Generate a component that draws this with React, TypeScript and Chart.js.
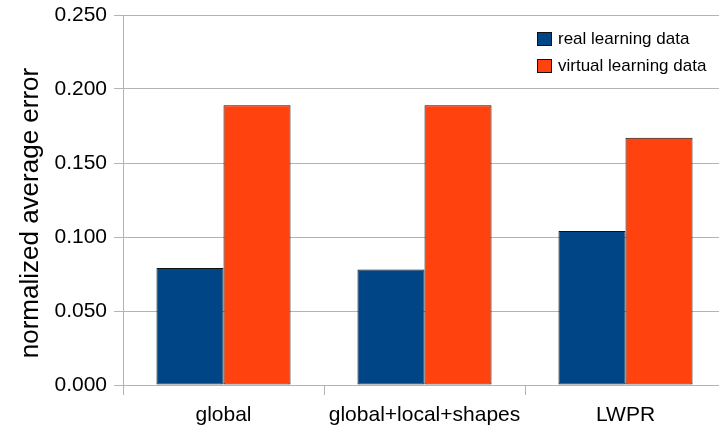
import React, { useEffect, useRef } from "react";
import { Chart, registerables } from "chart.js";

Chart.register(...registerables);

const categories = ["global", "global+local+shapes", "LWPR"];
const realLearning = [0.079, 0.078, 0.104];
const virtualLearning = [0.189, 0.189, 0.167];
const seriesLabels = ["real learning data", "virtual learning data"];
const seriesColors = ["#004586", "#ff420e"];
const yAxisTitle = "normalized average error";

const FONT = "'Liberation Sans', Arial, Helvetica, sans-serif";
const GRID = "#b3b3b3";

// Rotated y-axis caption drawn beside the tick labels
const yTitlePlugin = {
  id: "yTitle",
  afterDraw(chart: any) {
    const { ctx } = chart;
    ctx.save();
    ctx.translate(31, 213);
    ctx.rotate(-Math.PI / 2);
    ctx.font = `26px ${FONT}`;
    ctx.fillStyle = "#000";
    ctx.textAlign = "center";
    ctx.textBaseline = "middle";
    ctx.fillText(yAxisTitle, 0, 0);
    ctx.restore();
  },
};

export default function App() {
  const canvasRef = useRef<HTMLCanvasElement | null>(null);

  useEffect(() => {
    const canvas = canvasRef.current;
    if (!canvas) return;
    const chart = new Chart(canvas, {
      type: "bar",
      data: {
        labels: categories,
        datasets: [
          {
            label: seriesLabels[0],
            data: realLearning,
            backgroundColor: seriesColors[0],
            borderColor: "#111111",
            borderWidth: 1,
            borderSkipped: false,
          },
          {
            label: seriesLabels[1],
            data: virtualLearning,
            backgroundColor: seriesColors[1],
            borderColor: "#111111",
            borderWidth: 1,
            borderSkipped: false,
          },
        ],
      },
      options: {
        responsive: false,
        animation: false,
        devicePixelRatio: 1,
        layout: { padding: { top: 15, right: 14, left: 0, bottom: 0 } },
        plugins: {
          legend: { display: false },
          tooltip: { enabled: false },
        },
        datasets: {
          bar: { categoryPercentage: 0.667, barPercentage: 1 },
        },
        scales: {
          x: {
            offset: true,
            grid: {
              offset: true,
              drawOnChartArea: false,
              drawTicks: true,
              tickLength: 10,
              color: GRID,
            },
            border: { color: GRID },
            ticks: {
              color: "#000",
              font: { family: FONT, size: 21 },
              padding: 8,
              maxRotation: 0,
            },
            afterFit(scale: any) {
              scale.height = 49;
            },
          },
          y: {
            min: 0,
            max: 0.25,
            grid: { color: GRID, tickLength: 9 },
            border: { color: GRID },
            ticks: {
              stepSize: 0.05,
              color: "#000",
              font: { family: FONT, size: 21 },
              padding: 7,
              callback: (v: any) => Number(v).toFixed(3),
            },
            afterFit(scale: any) {
              scale.width = 123;
              scale.paddingTop = 0;
              scale.paddingBottom = 0;
            },
          },
        },
      },
      plugins: [yTitlePlugin],
    });
    return () => chart.destroy();
  }, []);

  return (
    <div
      style={{
        position: "fixed",
        left: 0,
        top: 0,
        width: 719,
        height: 434,
        overflow: "hidden",
        background: "#fff",
      }}
    >
      <canvas ref={canvasRef} width={740} height={434} style={{ display: "block" }} />
      <div
        style={{
          position: "absolute",
          left: 537,
          top: 31,
          fontFamily: FONT,
          fontSize: 17,
          color: "#000",
        }}
      >
        {seriesLabels.map((lab, i) => (
          <div
            key={lab}
            style={{ display: "flex", alignItems: "center", height: 27, marginTop: i === 0 ? -6 : 0 }}
          >
            <span
              style={{
                display: "inline-block",
                width: 13,
                height: 12,
                background: seriesColors[i],
                border: "1px solid #111111",
                marginRight: 6,
              }}
            />
            <span>{lab}</span>
          </div>
        ))}
      </div>
    </div>
  );
}
